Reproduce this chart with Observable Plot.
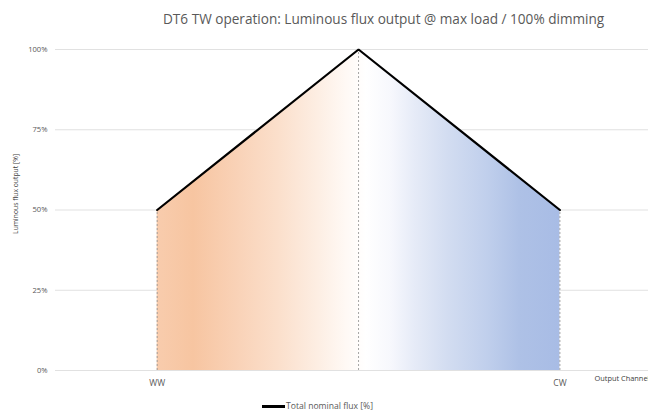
<!DOCTYPE html>
<html>
<head>
<meta charset="utf-8">
<script src="https://cdn.jsdelivr.net/npm/d3@7"></script>
<script src="https://cdn.jsdelivr.net/npm/@observablehq/plot@0.6"></script>
<style>
  html, body { margin: 0; padding: 0; background: #fff; }
  #wrap { position: relative; width: 648px; height: 412px; overflow: hidden; font-family: "Open Sans", sans-serif; }
  #title { position: absolute; top: 9px; left: 163px; width: 470px; font-size: 13.6px; color: #595959; white-space: nowrap; }
  #legend { position: absolute; top: 400px; left: 262px; font-size: 8.6px; color: #595959; display: flex; align-items: center; white-space: nowrap; }
  #legend span.sw { display: inline-block; width: 23px; height: 3px; background: #000; margin-right: 1px; }
  #chart { position: absolute; top: 0; left: 0; }
</style>
</head>
<body>
<div id="wrap">
  <div id="title">DT6 TW operation: Luminous flux output @ max load / 100% dimming</div>
  <div id="chart"></div>
  <div id="legend"><span class="sw"></span>Total nominal flux [%]</div>
</div>
<script>
const channels = ["WW", "", "CW"];
const channelIndex = [0, 1, 2];
const flux = [50, 100, 50];
const yTicks = [0, 25, 50, 75, 100];
const yTickLabels = ["0%", "25%", "50%", "75%", "100%"];
const xTickIndex = [0, 2];
const xAxisTitle = "Output Channel";
const yAxisTitle = "Luminous flux output [%]";

const data = channelIndex.map((i) => ({ i, ch: channels[i], v: flux[i] }));

const plot = Plot.plot({
  width: 648,
  height: 412,
  marginLeft: 55,
  marginRight: 0,
  marginTop: 49,
  marginBottom: 42,
  style: { fontFamily: "Open Sans, sans-serif", background: "transparent", overflow: "visible" },
  x: { type: "linear", domain: [-0.505, 2.44] },
  y: { domain: [0, 100] },
  marks: [
    Plot.gridY(yTicks, { stroke: "#d9d9d9", strokeOpacity: 1, strokeWidth: 0.8 }),
    Plot.areaY(data, { x: "i", y: "v", fill: "url(#fluxGrad)", curve: "linear" }),
    Plot.ruleX(data, { x: "i", y1: 0, y2: "v", stroke: "#8f8f8f", strokeWidth: 0.8, strokeDasharray: "2,2" }),
    Plot.lineY(data, { x: "i", y: "v", stroke: "#000", strokeWidth: 2.2, strokeLinejoin: "miter" }),
    Plot.axisY(yTicks, { tickSize: 0, tickPadding: 8, tickFormat: (d) => yTickLabels[yTicks.indexOf(d)], fill: "#595959", fontSize: 7.6, label: null }),
    Plot.axisX(xTickIndex, { tickSize: 0, tickPadding: 9, tickFormat: (d) => channels[d], fill: "#595959", fontSize: 8.6, label: null }),
    Plot.text([yAxisTitle], { x: -0.505, y: 55, dx: -40, rotate: -90, textAnchor: "middle", fill: "#404040", fontSize: 6.8 }),
    Plot.text([xAxisTitle], { x: 2.44, y: 0, dx: -54, dy: 8, textAnchor: "start", fill: "#404040", fontSize: 7.4 })
  ]
});

const svg = plot;
const defs = d3.select(svg).insert("defs", ":first-child");
const grad = defs.append("linearGradient").attr("id", "fluxGrad").attr("x1", "0").attr("x2", "1").attr("y1", "0").attr("y2", "0");
const stops = [
  [0.00, "#f8ccad"],
  [0.09, "#f7c5a1"],
  [0.20, "#f9d2b7"],
  [0.30, "#fbdfcb"],
  [0.40, "#fdeee3"],
  [0.47, "#fff9f5"],
  [0.52, "#ffffff"],
  [0.58, "#f7f8fd"],
  [0.64, "#e6ebf7"],
  [0.72, "#d3ddf1"],
  [0.82, "#c0cfec"],
  [0.90, "#aec1e6"],
  [1.00, "#a8bce5"]
];
stops.forEach(([o, c]) => grad.append("stop").attr("offset", o).attr("stop-color", c));
document.getElementById("chart").appendChild(svg);
</script>
</body>
</html>
